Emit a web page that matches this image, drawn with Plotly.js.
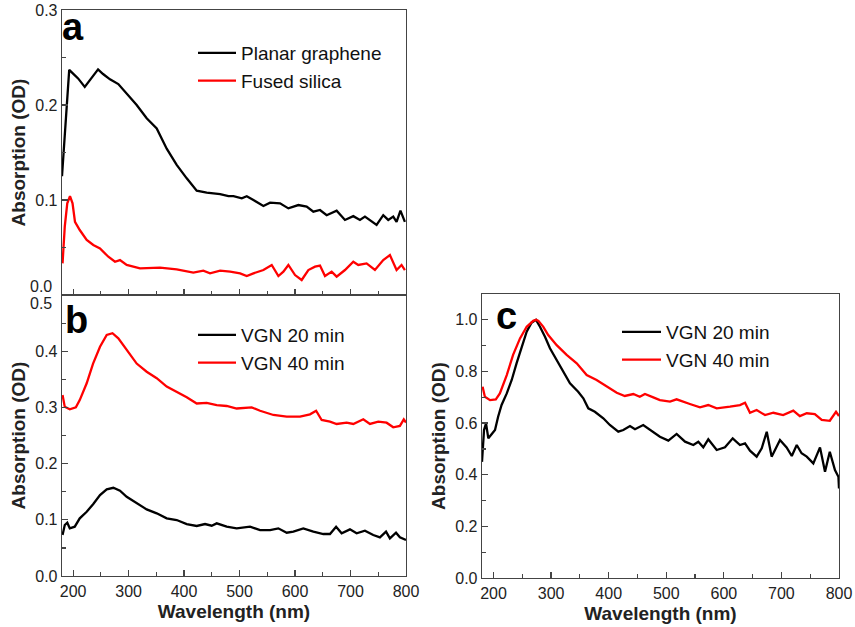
<!DOCTYPE html>
<html><head><meta charset="utf-8">
<script src="https://cdn.plot.ly/plotly-3.0.1.min.js"></script>
<style>html,body{margin:0;padding:0;background:#fff}#chart{width:855px;height:627px}</style>
</head><body><div id="chart"></div>
<script>
// Panel a
const aBlackX = [180,182,185,190,193,200,209,221,233.5,245,254,266.5,281.5,296.6,314.6,332.6,350.7,368.7,386.7,404.8,422.8,440.8,458.8,465,480,489,504,513,525,543,555,573,588,606,621,633,645,657,675,690,705,717,726,735,747,759,768,777,783,790,798];
const aBlackY = [0.125,0.142,0.177,0.219,0.237,0.233,0.228,0.219,0.228,0.2375,0.2326,0.227,0.222,0.212,0.200,0.186,0.1754,0.154,0.137,0.1228,0.1098,0.1077,0.107,0.1063,0.104,0.104,0.1018,0.104,0.100,0.0937,0.0972,0.0965,0.0912,0.0947,0.093,0.0877,0.0895,0.084,0.0888,0.079,0.083,0.079,0.0825,0.079,0.0737,0.084,0.079,0.0825,0.077,0.0888,0.077];
const aRedX = [181,185,189.5,194.4,199,203.4,212,224.5,236.4,248.5,263.5,275.5,284.5,296.6,320.6,356.6,386.7,416.7,434.7,446.8,465,483,501,513,525,543,558,570,579,588,600,612,624,636,645,654,666,675,690,705,714,729,744,759,771,783,792,798];
const aRedY = [0.0333,0.072,0.0965,0.104,0.0965,0.077,0.0684,0.058,0.0526,0.049,0.0403,0.035,0.0368,0.0316,0.028,0.0288,0.027,0.0235,0.0256,0.0228,0.0256,0.0246,0.0228,0.020,0.0228,0.0263,0.0316,0.020,0.0246,0.0316,0.021,0.0158,0.0263,0.0298,0.031,0.020,0.0246,0.0193,0.0263,0.035,0.0316,0.0333,0.0263,0.0368,0.042,0.0263,0.0316,0.0263];
// Panel b
const bBlackX = [181,185,189.5,194,203,212,224.5,236.4,248.5,260.6,272.5,284.5,296.6,314.6,332.6,350.7,368.7,386.7,404.8,422.8,437.8,449.8,458.8,476.8,494.8,518.9,537,555,569.9,585,597,614.9,633,651,663,674,684,699,711,726,741,753,764,771,782,789,800];
const bBlackY = [0.073,0.0907,0.0948,0.0848,0.0877,0.1026,0.1144,0.128,0.144,0.1543,0.157,0.1518,0.141,0.1304,0.1186,0.1115,0.1026,0.0996,0.0925,0.089,0.0925,0.0895,0.0937,0.0877,0.0848,0.0877,0.0818,0.0818,0.0848,0.077,0.0789,0.0848,0.0789,0.0747,0.0747,0.0877,0.076,0.083,0.076,0.0806,0.073,0.0688,0.0789,0.067,0.077,0.0688,0.064];
const bRedX = [181,185,194,205,212,224.5,236,248.5,260.6,271,281.5,296.6,314.6,332.6,350.7,368.7,386.7,404.8,422.8,440.8,458.8,476.8,494.8,521.9,537,561,585,609,627,638,648,663,675,693,705,723,735,750,765,777,789,796,800];
const bRedY = [0.322,0.301,0.2966,0.300,0.313,0.343,0.378,0.408,0.4288,0.432,0.423,0.402,0.378,0.3635,0.352,0.337,0.328,0.318,0.307,0.308,0.304,0.3025,0.298,0.300,0.294,0.2865,0.2835,0.2835,0.2877,0.294,0.2776,0.2746,0.2705,0.2728,0.2705,0.2788,0.2705,0.2746,0.2728,0.2646,0.267,0.2788,0.273];
// Panel c (normalised)
const cBlackX = [180,182,183.5,187,191,197,202.6,208,214,223,231.6,240,249,257.6,266,273.8,280.7,289.4,298,309.7,321,332.8,347,356,364.6,376,390.7,402,416.7,425.4,437,445.7,460,471.8,489,503.6,518,532.6,547,555.7,564.3,573,587.6,602,615.4,628,636.8,645.4,657,665.8,674.5,683,697.5,709,718,726.6,735,744,755.4,767,775.7,784,793,799,800];
const cBlackY = [0.45,0.5217,0.573,0.599,0.541,0.5577,0.573,0.6247,0.670,0.715,0.767,0.8315,0.896,0.954,0.989,1.0,0.973,0.9346,0.8896,0.844,0.799,0.754,0.7216,0.696,0.657,0.644,0.6185,0.5926,0.5666,0.573,0.5887,0.576,0.5926,0.573,0.547,0.532,0.558,0.528,0.515,0.528,0.506,0.537,0.4957,0.506,0.541,0.515,0.5217,0.493,0.470,0.502,0.5666,0.470,0.5345,0.506,0.4725,0.515,0.483,0.470,0.444,0.506,0.4117,0.489,0.418,0.392,0.347];
const cRedX = [181,185,194,204,211,223,234,246,257.6,269,274,278,286.5,295,309.7,327,344.5,361.8,379,396.6,414,428,442.8,454,463,477.5,489,506.5,518,541,558.6,573,587.6,610.7,628,636.8,645.4,657,671.5,686,703,720.6,732,744,758,770,784,794.8,800];
const cRedY = [0.741,0.702,0.689,0.692,0.715,0.786,0.864,0.928,0.973,0.996,1.0,0.996,0.973,0.941,0.902,0.864,0.8315,0.786,0.767,0.7436,0.7177,0.705,0.7126,0.702,0.7126,0.6998,0.689,0.683,0.692,0.674,0.661,0.670,0.657,0.6635,0.670,0.679,0.640,0.6506,0.631,0.640,0.631,0.648,0.627,0.638,0.635,0.612,0.609,0.644,0.627];

const namesA = ['Planar graphene','Fused silica'];
const namesBC = ['VGN 20 min','VGN 40 min'];
const panelLetters = ['a','b','c'];
const xTickVals = [200,300,400,500,600,700,800];
const yTickValsA = [0.1,0.2,0.3];
const yTickValsB = [0.0,0.1,0.2,0.3,0.4];
const yTickValsC = [0.0,0.2,0.4,0.6,0.8,1.0];

const FONT = 'Liberation Sans, Arial, sans-serif';
const BLACK = '#000000', RED = '#ff0000';
const LW = 2.3;

function tr(x,y,name,color,xa,ya,leg){
  return {x:x,y:y,name:name,type:'scatter',mode:'lines',line:{color:color,width:LW},xaxis:xa,yaxis:ya,legend:leg};
}
const data = [
  tr(aBlackX,aBlackY,namesA[0],BLACK,'x','y','legend'),
  tr(aRedX,aRedY,namesA[1],RED,'x','y','legend'),
  tr(bBlackX,bBlackY,namesBC[0],BLACK,'x2','y2','legend2'),
  tr(bRedX,bRedY,namesBC[1],RED,'x2','y2','legend2'),
  tr(cBlackX,cBlackY,namesBC[0],BLACK,'x3','y3','legend3'),
  tr(cRedX,cRedY,namesBC[1],RED,'x3','y3','legend3')
];

const W=855,H=627;
const px = v=>v/W, py = v=>1-v/H;
const TICKFONT = {family:FONT,size:16,color:'#222'};
const axisCommon = {showline:true,mirror:true,linecolor:'#444',linewidth:1.3,ticks:'inside',ticklen:6,tickwidth:1.2,tickcolor:'#444',
  showgrid:false,zeroline:false,tickfont:TICKFONT};
function xax(domain,anchor,showLabels,title){
  return Object.assign({},axisCommon,{domain:domain,anchor:anchor,range:[180,800],tickmode:'array',tickvals:xTickVals,showticklabels:showLabels,
    minor:{tickmode:'linear',tick0:0,dtick:50,ticks:'inside',ticklen:4,tickwidth:1.2,tickcolor:'#444'},
    title:title?{text:title,font:{family:FONT,size:19,color:'#222',weight:'bold'},standoff:6}:undefined});
}
function yax(domain,anchor,range,vals,minorD){
  return Object.assign({},axisCommon,{domain:domain,anchor:anchor,range:range,tickmode:'array',tickvals:vals,ticktext:vals.map(v=>v.toFixed(1)),
    minor:{tickmode:'linear',tick0:0,dtick:minorD,ticks:'inside',ticklen:4,tickwidth:1.2,tickcolor:'#444'},
    title:{text:'Absorption (OD)',font:{family:FONT,size:19,color:'#222',weight:'bold'},standoff:4}});
}
const legFont = {family:FONT,size:19,color:'#111'};
const letterFont = {family:FONT,size:38,color:'#000'};
const layout = {
  width:W,height:H,margin:{l:0,r:0,t:0,b:0},paper_bgcolor:'#fff',plot_bgcolor:'#fff',
  xaxis: xax([px(62),px(406)],'y',false,null),
  yaxis: yax([py(295),py(10)],'x',[0,0.3],yTickValsA,0.05),
  xaxis2: xax([px(62),px(406)],'y2',true,'Wavelength (nm)'),
  yaxis2: yax([py(576),py(295)],'x2',[0,0.5],yTickValsB,0.05),
  xaxis3: xax([px(482),px(839)],'y3',true,'Wavelength (nm)'),
  yaxis3: yax([py(578),py(294)],'x3',[0,1.1],yTickValsC,0.1),
  showlegend:true,
  legend:{x:px(193),y:py(34),xanchor:'left',yanchor:'top',bgcolor:'rgba(0,0,0,0)',font:legFont,itemwidth:38},
  legend2:{x:px(193),y:py(316),xanchor:'left',yanchor:'top',bgcolor:'rgba(0,0,0,0)',font:legFont,itemwidth:38},
  legend3:{x:px(617),y:py(313),xanchor:'left',yanchor:'top',bgcolor:'rgba(0,0,0,0)',font:legFont,itemwidth:39},
  annotations:[
    {text:'<b>'+panelLetters[0]+'</b>',xref:'x domain',yref:'y domain',x:-0.006,y:1.02,xanchor:'left',yanchor:'top',showarrow:false,font:letterFont},
    {text:'<b>'+panelLetters[1]+'</b>',xref:'x2 domain',yref:'y2 domain',x:0.003,y:0.993,xanchor:'left',yanchor:'top',showarrow:false,font:letterFont},
    {text:'<b>'+panelLetters[2]+'</b>',xref:'x3 domain',yref:'y3 domain',x:0.035,y:1.003,xanchor:'left',yanchor:'top',showarrow:false,font:letterFont},
    {text:'0.0',xref:'paper',yref:'y',x:px(54),y:0,xanchor:'right',yanchor:'middle',yshift:9,showarrow:false,font:TICKFONT},
    {text:'0.5',xref:'paper',yref:'y2',x:px(54),y:0.5,xanchor:'right',yanchor:'middle',yshift:-8,showarrow:false,font:TICKFONT}
  ]
};
Plotly.newPlot('chart',data,layout,{staticPlot:true,displayModeBar:false});
</script></body></html>
